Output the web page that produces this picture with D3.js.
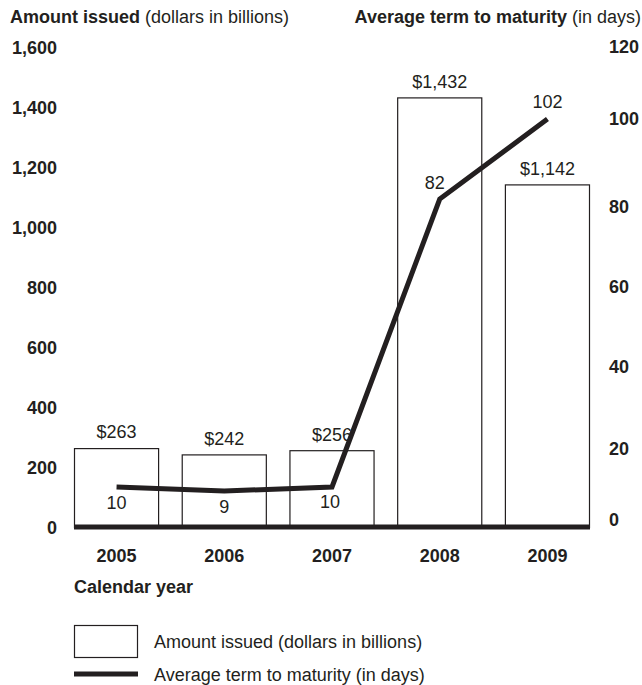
<!DOCTYPE html>
<html>
<head>
<meta charset="utf-8">
<script src="https://cdn.jsdelivr.net/npm/d3@7"></script>
<style>
  html, body { margin: 0; padding: 0; background: #fff; }
  svg { display: block; font-family: "Liberation Sans", Arial, Helvetica, sans-serif; }
</style>
</head>
<body>
<svg id="chart" width="642" height="685"></svg>
<script>
const years = ["2005", "2006", "2007", "2008", "2009"];
const amountIssued = [263, 242, 256, 1432, 1142];
const amountLabels = ["$263", "$242", "$256", "$1,432", "$1,142"];
const avgTerm = [10, 9, 10, 82, 102];
const leftTicks = [0, 200, 400, 600, 800, 1000, 1200, 1400, 1600];
const rightTicks = [0, 20, 40, 60, 80, 100, 120];
const leftTitleBold = "Amount issued";
const leftTitleRest = " (dollars in billions)";
const rightTitleBold = "Average term to maturity";
const rightTitleRest = " (in days)";
const xTitle = "Calendar year";
const legendItems = ["Amount issued (dollars in billions)", "Average term to maturity (in days)"];

const ink = "#231f20";
const fs = 18;
const svg = d3.select("#chart");

const x = d3.scaleBand().domain(years).range([74, 590]).paddingInner(0.21).paddingOuter(0);
const yL = d3.scaleLinear().domain([0, 1600]).range([527, 47]);
const yR = d3.scaleLinear().domain([0, 120]).range([527, 47]);

// Titles
const t1 = svg.append("text").attr("x", 10).attr("y", 23).attr("font-size", fs).attr("fill", ink);
t1.append("tspan").attr("font-weight", "bold").text(leftTitleBold);
t1.append("tspan").text(leftTitleRest);
const t2 = svg.append("text").attr("x", 641).attr("y", 23).attr("text-anchor", "end").attr("font-size", fs).attr("fill", ink);
t2.append("tspan").attr("font-weight", "bold").text(rightTitleBold);
t2.append("tspan").text(rightTitleRest);

// Left axis
const leftAxis = d3.axisLeft(yL).tickValues(leftTicks).tickSize(0).tickPadding(0).tickFormat(d3.format(","));
const gL = svg.append("g").attr("transform", "translate(57,1)").call(leftAxis);
gL.select(".domain").remove();
gL.selectAll("text").attr("font-size", fs).attr("font-weight", "bold").attr("fill", ink)
  .attr("font-family", null);

// Right axis (labels in the original sit slightly off the grid for 0 and 100)
const rightNudge = {0: -7, 20: 2, 100: -8};
const rightAxis = d3.axisRight(yR).tickValues(rightTicks).tickSize(0).tickPadding(0).tickFormat(d3.format("d"));
const gR = svg.append("g").attr("transform", "translate(609,0)").call(rightAxis);
gR.select(".domain").remove();
gR.selectAll("text").attr("font-size", fs).attr("font-weight", "bold").attr("fill", ink)
  .attr("font-family", null)
  .attr("y", d => rightNudge[d] || 0);

// Bars
svg.append("g").selectAll("rect").data(years).join("rect")
  .attr("x", d => x(d) + 0.5)
  .attr("y", (d, i) => yL(amountIssued[i]) + 0.5)
  .attr("width", x.bandwidth() - 1)
  .attr("height", (d, i) => yL(0) - yL(amountIssued[i]))
  .attr("fill", "#fff").attr("stroke", ink).attr("stroke-width", 1.2);

// Bar labels
svg.append("g").selectAll("text").data(years).join("text")
  .attr("x", d => x(d) + x.bandwidth() / 2)
  .attr("y", (d, i) => yL(amountIssued[i]) - 16)
  .attr("dy", "0.35em")
  .attr("text-anchor", "middle").attr("font-size", fs).attr("fill", ink)
  .text((d, i) => amountLabels[i]);

// Baseline
svg.append("line").attr("x1", 74).attr("x2", 590).attr("y1", yL(0)).attr("y2", yL(0))
  .attr("stroke", ink).attr("stroke-width", 5);

// Line series
const lineGen = d3.line().x((d, i) => x(years[i]) + x.bandwidth() / 2).y(d => yR(d));
svg.append("path").datum(avgTerm).attr("d", lineGen)
  .attr("fill", "none").attr("stroke", ink).attr("stroke-width", 5).attr("stroke-linejoin", "miter");

// Line labels
const lineLabelOffsets = [[0, 16], [0, 16], [-2, 15], [-5, -16], [0, -17]];
svg.append("g").selectAll("text").data(avgTerm).join("text")
  .attr("x", (d, i) => x(years[i]) + x.bandwidth() / 2 + lineLabelOffsets[i][0])
  .attr("y", (d, i) => yR(d) + lineLabelOffsets[i][1])
  .attr("dy", "0.35em")
  .attr("text-anchor", "middle").attr("font-size", fs).attr("fill", ink)
  .text(d => d);

// X axis labels
const xAxis = d3.axisBottom(x).tickSize(0).tickPadding(0);
const gX = svg.append("g").attr("transform", "translate(0,549)").call(xAxis);
gX.select(".domain").remove();
gX.selectAll("text").attr("font-size", fs).attr("font-weight", "bold").attr("fill", ink)
  .attr("font-family", null);

svg.append("text").attr("x", 74).attr("y", 587).attr("dy", "0.35em")
  .attr("font-size", fs).attr("font-weight", "bold").attr("fill", ink).text(xTitle);

// Legend
svg.append("rect").attr("x", 74.5).attr("y", 625.5).attr("width", 63).attr("height", 32)
  .attr("fill", "#fff").attr("stroke", ink).attr("stroke-width", 1.2);
svg.append("text").attr("x", 154).attr("y", 642).attr("dy", "0.35em")
  .attr("font-size", fs).attr("fill", ink).text(legendItems[0]);
svg.append("line").attr("x1", 74).attr("x2", 138).attr("y1", 674).attr("y2", 674)
  .attr("stroke", ink).attr("stroke-width", 5);
svg.append("text").attr("x", 154).attr("y", 675).attr("dy", "0.35em")
  .attr("font-size", fs).attr("fill", ink).text(legendItems[1]);
</script>
</body>
</html>
